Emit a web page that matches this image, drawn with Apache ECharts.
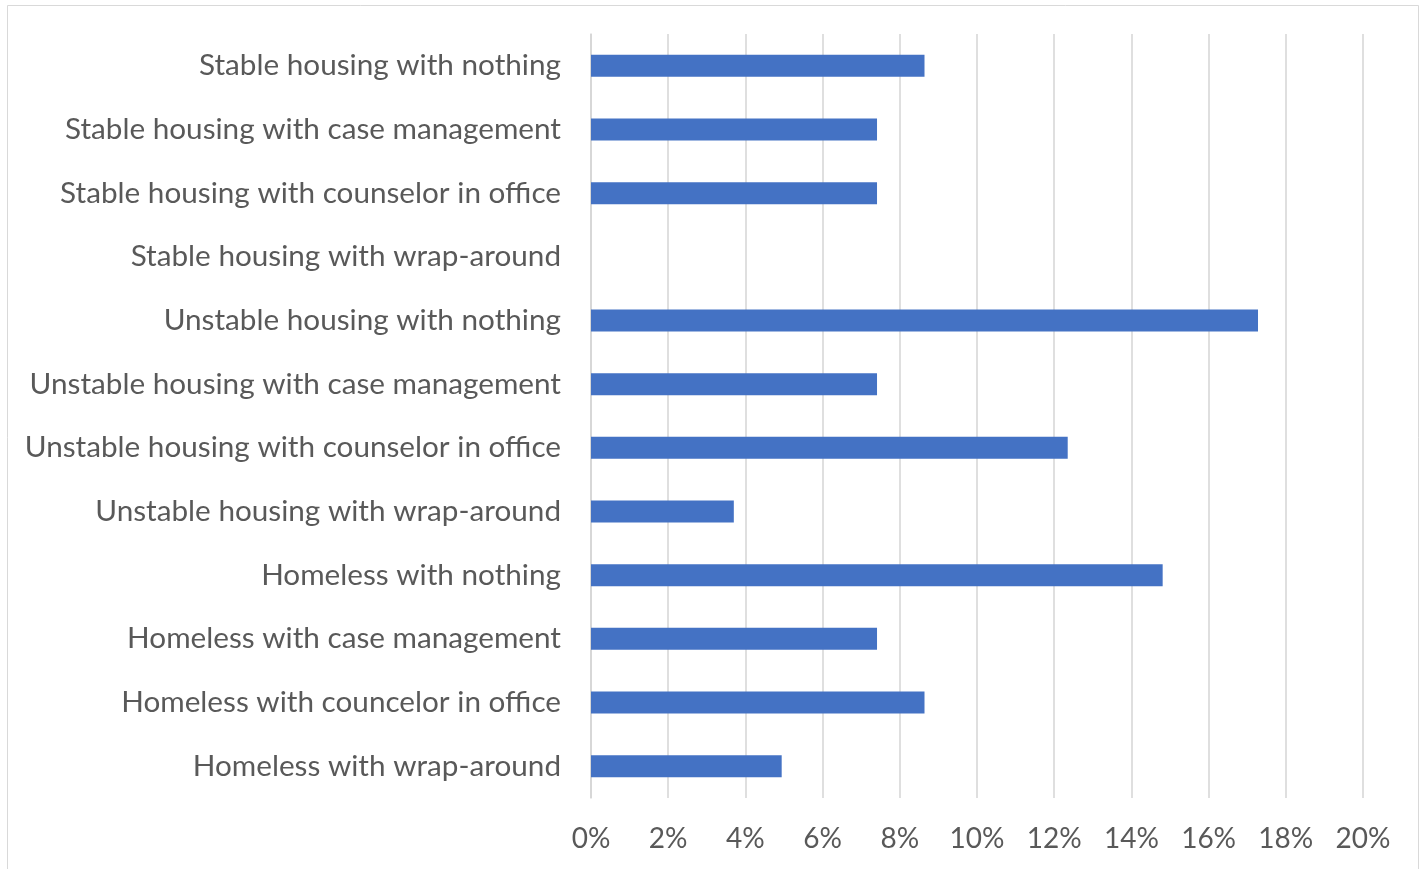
<!DOCTYPE html>
<html>
<head>
<meta charset="utf-8">
<script src="https://cdn.jsdelivr.net/npm/echarts@6/dist/echarts.min.js"></script>
<style>
html,body{margin:0;padding:0;background:#fff;}
#chart{width:1427px;height:869px;}
</style>
</head>
<body>
<div id="chart"></div>
<script>
const categories = [
  "Stable housing with nothing",
  "Stable housing with case management",
  "Stable housing with counselor in office",
  "Stable housing with wrap-around",
  "Unstable housing with nothing",
  "Unstable housing with case management",
  "Unstable housing with counselor in office",
  "Unstable housing with wrap-around",
  "Homeless with nothing",
  "Homeless with case management",
  "Homeless with councelor in office",
  "Homeless with wrap-around"
];
const values = [8.64, 7.41, 7.41, 0, 17.28, 7.41, 12.35, 3.70, 14.81, 7.41, 8.64, 4.94];
const xTicks = [0, 2, 4, 6, 8, 10, 12, 14, 16, 18, 20];

const chart = echarts.init(document.getElementById('chart'), null, {renderer: 'canvas'});
const font = 'Lato, "Open Sans", sans-serif';
chart.setOption({
  animation: false,
  backgroundColor: '#ffffff',
  graphic: [{
    type: 'rect',
    shape: {x: 7.5, y: 5.5, width: 1411, height: 900},
    style: {fill: 'none', stroke: '#D9D9D9', lineWidth: 1},
    silent: true
  }],
  grid: {left: 591, right: 64, top: 34, bottom: 71, containLabel: false},
  xAxis: {
    type: 'value',
    min: xTicks[0],
    max: xTicks[xTicks.length - 1],
    interval: 2,
    axisLine: {show: false},
    axisTick: {show: false},
    splitLine: {show: true, lineStyle: {color: '#D4D4D4', width: 1.5}},
    axisLabel: {
      formatter: v => v + '%',
      color: '#595959',
      fontFamily: font,
      fontSize: 28,
      margin: 27
    }
  },
  yAxis: {
    type: 'category',
    inverse: true,
    data: categories,
    axisLine: {show: true, lineStyle: {color: '#D4D4D4', width: 1.5}},
    axisTick: {show: false},
    axisLabel: {
      color: '#595959',
      fontFamily: font,
      fontSize: 29.7,
      margin: 30
    }
  },
  series: [{
    type: 'bar',
    data: values,
    barWidth: 22,
    itemStyle: {color: '#4472C4'}
  }]
});
</script>
</body>
</html>
